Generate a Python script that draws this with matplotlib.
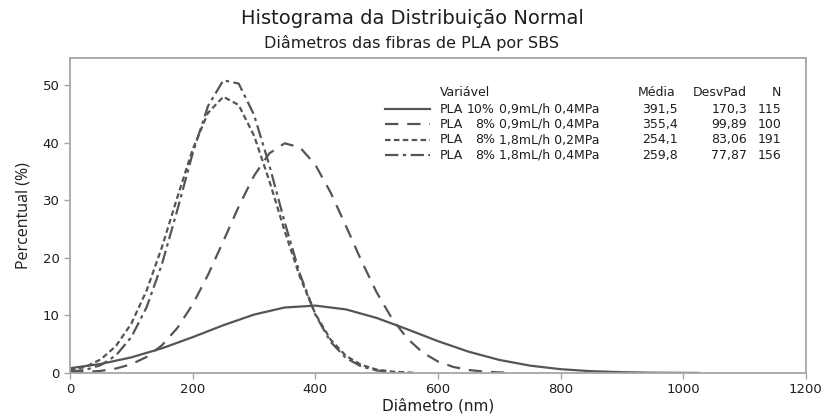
import matplotlib.pyplot as plt
from matplotlib.lines import Line2D

plt.rcParams['font.family'] = ['DejaVu Sans']

# fitted normal curves (Percentual vs Diâmetro)
x_a = [0, 50, 100, 150, 200, 250, 300, 350, 400, 450, 500, 550, 600, 650, 700,
       750, 800, 850, 900, 950, 1000, 1025]
y_a = [0.83, 1.57, 2.71, 4.29, 6.22, 8.29, 10.14, 11.37, 11.70, 11.04, 9.56, 7.59,
       5.53, 3.70, 2.27, 1.28, 0.66, 0.31, 0.14, 0.05, 0.02, 0.01]

x_b = [0, 25, 50, 75, 100, 125, 150, 175, 200, 225, 250, 275, 300, 325, 350, 375,
       400, 425, 450, 475, 500, 525, 550, 575, 600, 625, 650, 675, 700, 715]
y_b = [0.07, 0.17, 0.37, 0.78, 1.52, 2.79, 4.82, 7.82, 11.91, 17.04, 22.89, 28.89,
       34.24, 38.14, 39.88, 39.18, 36.15, 31.33, 25.51, 19.51, 14.01, 9.45, 5.99,
       3.56, 1.99, 1.05, 0.52, 0.24, 0.10, 0.06]

x_c = [0, 25, 50, 75, 100, 125, 150, 175, 200, 225, 250, 275, 300, 325, 350, 375,
       400, 425, 450, 475, 500, 525, 550, 560]
y_c = [0.45, 1.07, 2.35, 4.70, 8.59, 14.35, 21.90, 30.52, 38.85, 45.17, 47.97, 46.53,
       41.23, 33.37, 24.66, 16.65, 10.27, 5.78, 2.97, 1.40, 0.60, 0.24, 0.08, 0.05]

x_d = [0, 25, 50, 75, 100, 125, 150, 175, 200, 225, 250, 275, 300, 325, 350, 375,
       400, 425, 450, 475, 500, 525, 545]
y_d = [0.20, 0.54, 1.36, 3.06, 6.24, 11.45, 18.96, 28.32, 38.15, 46.36, 50.83, 50.26,
       44.84, 36.08, 26.19, 17.15, 10.13, 5.40, 2.59, 1.13, 0.44, 0.16, 0.06]

conc = ['10%', '8%', '8%', '8%']
cond = ['0,9mL/h 0,4MPa', '0,9mL/h 0,4MPa', '1,8mL/h 0,2MPa', '1,8mL/h 0,4MPa']
media = ['391,5', '355,4', '254,1', '259,8']
desvpad = ['170,3', '99,89', '83,06', '77,87']
n_obs = ['115', '100', '191', '156']

line_color = '#555555'
text_color = '#1e1e1e'
styles = ['-', (0, (6, 4)), (0, (2.5, 1.5)), (0, (6, 2, 1.5, 2))]

fig = plt.figure(figsize=(8.24, 4.16), dpi=100)
ax = fig.add_axes([0.085, 0.1034, 0.893, 0.7572])

for xs, ys, ls in zip([x_a, x_b, x_c, x_d], [y_a, y_b, y_c, y_d], styles):
    ax.plot(xs, ys, color=line_color, lw=1.6, linestyle=ls)

ax.set_xlim(0, 1200)
ax.set_ylim(0, 54.7)
ax.set_xticks(range(0, 1201, 200))
ax.set_yticks(range(0, 51, 10))
for sp in ax.spines.values():
    sp.set_color('#a6a6a6')
    sp.set_linewidth(1.3)
ax.tick_params(colors='#a6a6a6', labelcolor=text_color, labelsize=9.5, length=4, width=1)

ax.set_xlabel('Diâmetro (nm)', fontsize=11, color=text_color, labelpad=1)
ax.set_ylabel('Percentual (%)', fontsize=11.5, color=text_color, labelpad=8,
              family='Open Sans')

fig.text(0.5, 0.955, 'Histograma da Distribuição Normal', ha='center', va='center',
         fontsize=14, color=text_color)
fig.text(0.5, 0.897, 'Diâmetros das fibras de PLA por SBS', ha='center', va='center',
         fontsize=11.5, color=text_color)

# table-style legend
tk = dict(transform=ax.transAxes, fontsize=9, color=text_color, va='center')
ax.text(0.503, 0.889, 'Variável', ha='left', **tk)
ax.text(0.771, 0.889, 'Média', ha='left', **tk)
ax.text(0.920, 0.889, 'DesvPad', ha='right', **tk)
ax.text(0.967, 0.889, 'N', ha='right', **tk)
rows_y = [0.838, 0.790, 0.740, 0.692]
for i, yy in enumerate(rows_y):
    ax.add_line(Line2D([0.428, 0.489], [yy, yy], transform=ax.transAxes,
                       color=line_color, lw=1.6, linestyle=styles[i]))
    ax.text(0.503, yy, 'PLA', ha='left', **tk)
    ax.text(0.5775, yy, conc[i], ha='right', **tk)
    ax.text(0.5835, yy, cond[i], ha='left', **tk)
    ax.text(0.777, yy, media[i], ha='left', **tk)
    ax.text(0.920, yy, desvpad[i], ha='right', **tk)
    ax.text(0.967, yy, n_obs[i], ha='right', **tk)

fig.savefig('out.png', dpi=100)
